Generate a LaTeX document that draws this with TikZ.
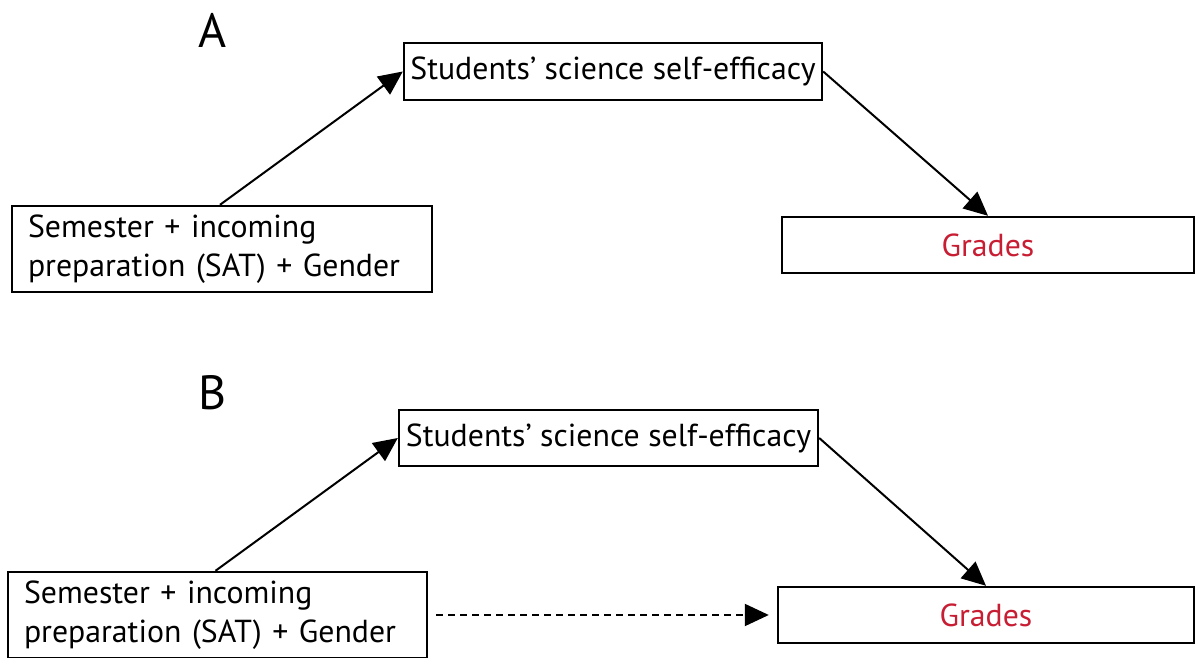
\documentclass[tikz,border=0pt]{standalone}
\usepackage{fontspec}
\setmainfont{PT Sans}
\usetikzlibrary{arrows.meta}
\definecolor{gradered}{RGB}{200,30,52}
\begin{document}
\begin{tikzpicture}[x=1pt,y=1pt,
  box/.style={draw=black,line width=2.4pt,rectangle,inner sep=0pt,font=\fontsize{31.8}{39}\selectfont},
  arr/.style={line width=2pt,-{Triangle[length=24pt,width=22pt]}},
  panel/.style={font=\fontsize{48}{50}\selectfont}]
\useasboundingbox (0,0) rectangle (1195,658);
% Panel A
\node[panel] (la) at (213,628) {A};
\node[box,minimum width=418pt,minimum height=57pt] (stA) at (613,586.5) {Students’ science self-efficacy};
\node[box,minimum width=420pt,minimum height=86pt,text width=388pt,align=left] (semA) at (222,409) {Semester + incoming\\preparation (SAT) + Gender};
\node[box,minimum width=412pt,minimum height=56pt,text=gradered] (grA) at (988,413) {Grades};
\draw[arr] ([xshift=-2pt]semA.north) -- (stA.west);
\draw[arr] (stA.east) -- (grA.north);
% Panel B
\node[panel] (lb) at (213,265) {B};
\node[box,minimum width=419pt,minimum height=56pt] (stB) at (608.5,220) {Students’ science self-efficacy};
\node[box,minimum width=419pt,minimum height=86pt,text width=387pt,align=left] (semB) at (217.5,43) {Semester + incoming\\preparation (SAT) + Gender};
\node[box,minimum width=416pt,minimum height=56pt,text=gradered] (grB) at (986,43) {Grades};
\draw[arr] ([xshift=-2pt]semB.north) -- (stB.west);
\draw[arr] (stB.east) -- (grB.north);
\draw[arr,dash pattern=on 7pt off 5pt,shorten <=8pt,shorten >=8pt] (semB.east) -- (grB.west);
\end{tikzpicture}
\end{document}
